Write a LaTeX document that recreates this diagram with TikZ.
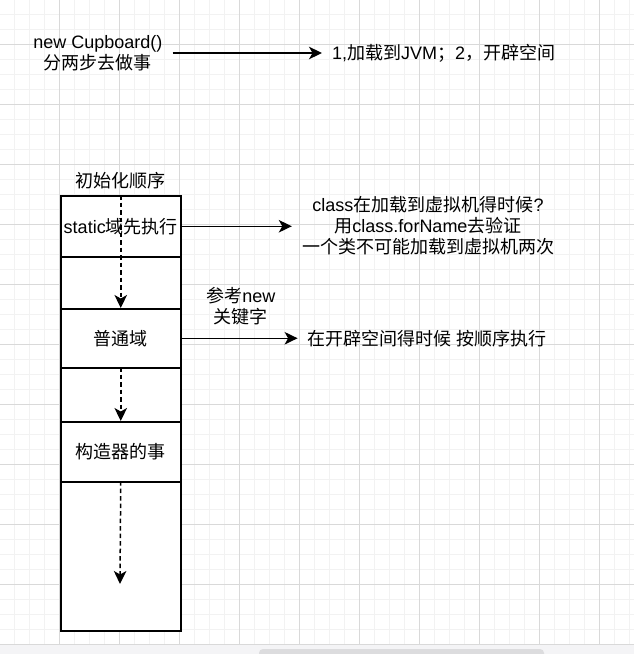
\documentclass[tikz,border=0pt]{standalone}
\usepackage{fontspec}
\setmainfont{Liberation Sans}
\newfontfamily\cjk{Noto Sans CJK SC}
\usetikzlibrary{arrows.meta}
\definecolor{gridmajor}{HTML}{D9D9D9}
\definecolor{gridminor}{HTML}{F2F2F2}
\definecolor{barbg}{HTML}{F4F4F6}
\definecolor{barthumb}{HTML}{DCDCDE}
\begin{document}
\begin{tikzpicture}[x=1pt,y=-1pt,
  txt/.style={font=\fontsize{18}{21}\selectfont, align=center, inner xsep=10pt, inner ysep=2pt, text=black},
  cell/.style={draw=black, line width=1.5pt, fill=white, minimum width=120pt, anchor=north west, inner sep=0pt, font=\fontsize{18}{21}\selectfont},
  arr/.style={line width=1.5pt, -{Stealth[length=13pt,width=12.5pt,inset=3.5pt]}},
  darr/.style={arr, dash pattern=on 4.5pt off 3pt}]
\useasboundingbox (0,0) rectangle (634,654);
% background
\fill[white] (0,0) rectangle (634,654);
\foreach \x in {-0.5,14.5,...,634} \draw[gridminor, line width=1pt] (\x,0) -- (\x,644.5);
\foreach \y in {-1,14,...,645} \draw[gridminor, line width=1pt] (0,\y) -- (634,\y);
\foreach \x in {59.5,119.5,...,634} \draw[gridmajor, line width=1pt] (\x,0) -- (\x,644.5);
\foreach \y in {44,104,...,645} \draw[gridmajor, line width=1pt] (0,\y) -- (634,\y);
\fill[barbg] (0,645) rectangle (634,654);
\begin{scope}
\clip (0,0) rectangle (634,654);
\fill[barthumb, rounded corners=4pt] (259,649) rectangle (544,660);
\end{scope}
% top
\node[txt] (t1) at (97.8,53) {new Cupboard()\\{\cjk 分两步去做事}};
\node[txt, anchor=west] (t5) at (322,53.3) {1,{\cjk 加载到}JVM{\cjk ；}2{\cjk ，开辟空间}};
\draw[arr] (t1.east) -- (t1.east -| t5.west);
% column
\node[txt] (title) at (120,180.7) {{\cjk 初始化顺序}};
\node[cell, minimum height=61pt] (c1) at (60,195) {static{\cjk 域先执行}};
\node[cell, minimum height=52pt] (c2) at (60,256) {};
\node[cell, minimum height=59pt] (c3) at (60,308) {{\cjk 普通域}};
\node[cell, minimum height=54pt] (c4) at (60,367) {};
\node[cell, minimum height=60pt] (c5) at (60,421) {{\cjk 构造器的事}};
\node[cell, minimum height=149pt] (c6) at (60,481) {};
\coordinate (end) at (120,584);
\draw[darr] (c1.north) -- (c3.north);
\draw[darr] (c4.north) -- (c5.north);
\draw[darr] (c6.north) -- (end);
% right texts
\node[txt] (t2) at (428,225.5) {class{\cjk 在加载到虚拟机得时候}?\\{\cjk 用}class.forName{\cjk 去验证}\\{\cjk 一个类不可能加载到虚拟机两次}};
\node[txt] (t4) at (427.3,338.3) {{\cjk 在开辟空间得时候} {\cjk 按顺序执行}};
\node[txt] (lbl) at (240.8,306.3) {{\cjk 参考}new\\{\cjk 关键字}};
\draw[arr] (c1.east) -- (c1.east -| t2.west);
\draw[arr] (c3.east) -- (c3.east -| t4.west);
\end{tikzpicture}
\end{document}
